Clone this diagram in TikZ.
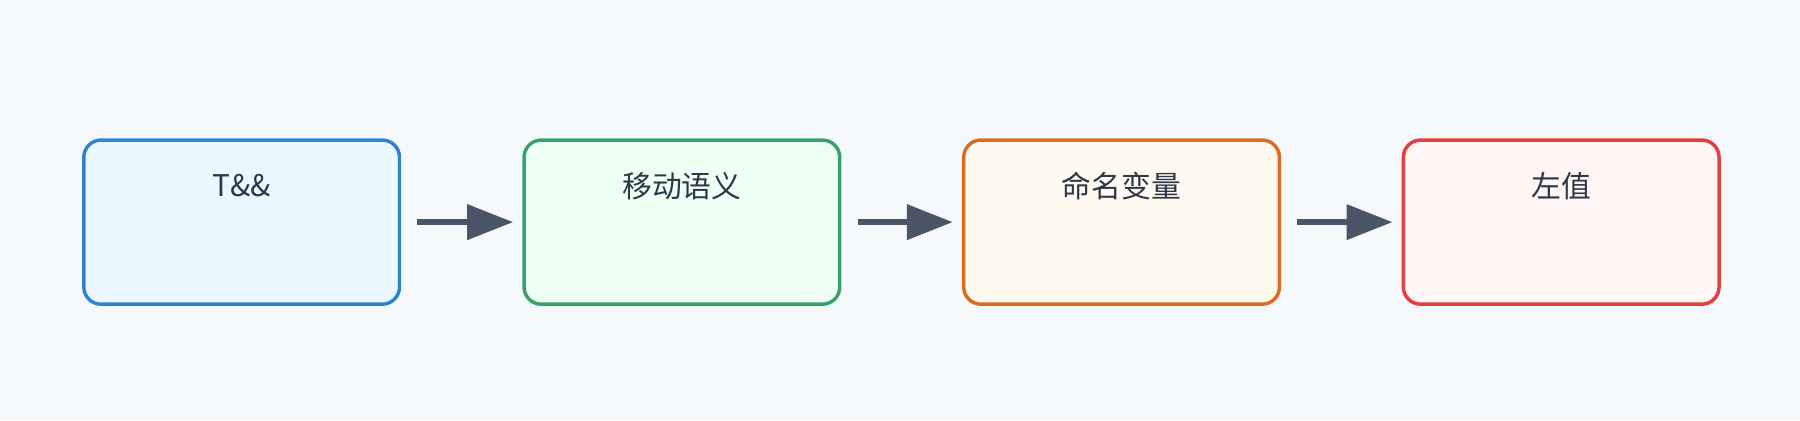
\documentclass[tikz,border=0pt]{standalone}
\usepackage{fontspec}
\setmainfont{Noto Sans CJK SC}
\usetikzlibrary{arrows.meta}
\definecolor{bg}{HTML}{F5F9FC}
\definecolor{txt}{HTML}{2D3748}
\definecolor{arr}{HTML}{4A5568}
\definecolor{bB}{HTML}{3182CE}\definecolor{fB}{HTML}{EBF8FF}
\definecolor{bG}{HTML}{38A169}\definecolor{fG}{HTML}{F0FFF4}
\definecolor{bO}{HTML}{DD6B20}\definecolor{fO}{HTML}{FFFAF0}
\definecolor{bR}{HTML}{E53E3E}\definecolor{fR}{HTML}{FFF5F5}
\begin{document}
\begin{tikzpicture}[x=0.4pt,y=-0.4pt,
  box/.style={draw=#1, line width=1.2pt, rounded corners=6pt, minimum width=110pt, minimum height=57.2pt, inner sep=0pt},
  lbl/.style={text=txt, font=\fontsize{10.4pt}{12pt}\selectfont},
  conn/.style={arr, line width=2pt, -{Triangle[length=16pt,width=12pt]}, shorten <=5.6pt, shorten >=3.2pt}]
\fill[bg] (0,0) rectangle (1568,366);
\useasboundingbox (0,0) rectangle (1568,366);
\node[box=bB, fill=fB] (a) at (210.5,193.5) {};
\node[box=bG, fill=fG] (b) at (594,193.5) {};
\node[box=bO, fill=fO] (c) at (977,193.5) {};
\node[box=bR, fill=fR] (d) at (1360,193.5) {};
\node[lbl] (ta) at (210.5,162) {T\&\&};
\node[lbl] (tb) at (594,162) {移动语义};
\node[lbl] (tc) at (977,162) {命名变量};
\node[lbl] (td) at (1360,162) {左值};
\draw[conn] (a.east) -- (b.west);
\draw[conn] (b.east) -- (c.west);
\draw[conn] (c.east) -- (d.west);
\end{tikzpicture}
\end{document}
